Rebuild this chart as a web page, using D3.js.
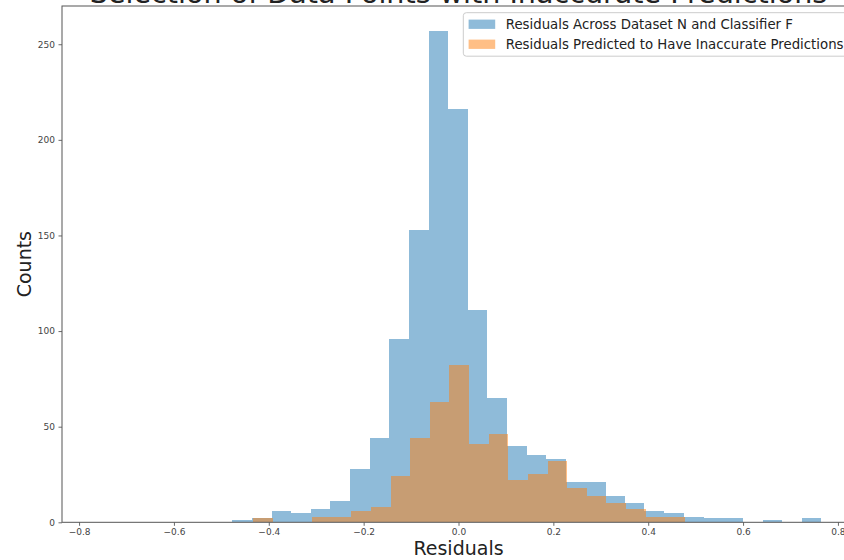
<!DOCTYPE html>
<html>
<head>
<meta charset="utf-8">
<script src="https://cdn.jsdelivr.net/npm/d3@7"></script>
<style>
  html, body { margin: 0; padding: 0; background: #fff; }
  svg { display: block; font-family: "DejaVu Sans", sans-serif; }
</style>
</head>
<body>
<svg id="chart" width="844" height="560"></svg>
<script>
// ---- data ----
const titleText = "Selection of Data Points with Inaccurate Predictions";
const xLabel = "Residuals";
const yLabel = "Counts";
const seriesNames = ["Residuals Across Dataset N and Classifier F", "Residuals Predicted to Have Inaccurate Predictions"];

const allEdges = [-0.477, -0.436, -0.394, -0.353, -0.311, -0.270, -0.229, -0.187, -0.146, -0.104,
  -0.063, -0.022, 0.020, 0.061, 0.103, 0.144, 0.185, 0.227, 0.268, 0.310,
  0.351, 0.392, 0.434, 0.475, 0.517, 0.558, 0.599, 0.641, 0.682, 0.724, 0.765];
const allCounts = [1, 2, 6, 5, 7, 11, 28, 44, 96, 153,
  257, 216, 111, 65, 40, 35, 33, 21, 21, 14,
  10, 6, 5, 3, 2, 2, 0, 1, 0, 2];

const inaccEdges = [-0.433, -0.392, -0.350, -0.309, -0.268, -0.226, -0.185, -0.143, -0.102, -0.061,
  -0.019, 0.022, 0.064, 0.105, 0.147, 0.188, 0.229, 0.271, 0.312, 0.354,
  0.395, 0.437, 0.478];
const inaccCounts = [2, 0, 0, 3, 3, 6, 8, 24, 44, 63,
  82, 41, 46, 22, 25, 32, 18, 14, 10, 7,
  3, 3];

const xTicks = [-0.8, -0.6, -0.4, -0.2, 0.0, 0.2, 0.4, 0.6, 0.8];
const yTicks = [0, 50, 100, 150, 200, 250];
const xDomain = [-0.836, 0.836];
const yDomain = [0, 270];
const colors = ["#1f77b4", "#ff7f0e"];

// ---- layout ----
const svg = d3.select("#chart");
const plot = { left: 62, right: 855, top: 6, bottom: 522.3 };

const x = d3.scaleLinear().domain(xDomain).range([plot.left, plot.right]);
const y = d3.scaleLinear().domain(yDomain).range([plot.bottom, plot.top]);

function bins(edges, counts) {
  return counts.map((c, i) => ({ x0: edges[i], x1: edges[i + 1], c }));
}

const series = [bins(allEdges, allCounts), bins(inaccEdges, inaccCounts)];

series.forEach((s, k) => {
  svg.append("g")
    .selectAll("rect")
    .data(s.filter(d => d.c > 0))
    .join("rect")
    .attr("x", d => x(d.x0))
    .attr("width", d => x(d.x1) - x(d.x0))
    .attr("y", d => y(d.c))
    .attr("height", d => y(0) - y(d.c))
    .attr("fill", colors[k])
    .attr("fill-opacity", 0.5)
    .attr("shape-rendering", "crispEdges");
});

// axes
const xAxis = d3.axisBottom(x).tickValues(xTicks).tickSize(3.5).tickPadding(3)
  .tickFormat(d => d3.format(".1f")(d).replace("-", "\u2212"));
const yAxis = d3.axisLeft(y).tickValues(yTicks).tickSize(3.5).tickPadding(3.5)
  .tickFormat(d3.format("d"));

const gx = svg.append("g").attr("transform", `translate(0,${plot.bottom})`).call(xAxis);
const gy = svg.append("g").attr("transform", `translate(${plot.left},0)`).call(yAxis);
[gx, gy].forEach(g => {
  g.select(".domain").remove();
  g.selectAll(".tick line").attr("stroke", "#444").attr("stroke-width", 0.8);
  g.selectAll(".tick text").attr("fill", "#444").attr("font-size", 9)
    .attr("font-family", "DejaVu Sans, sans-serif");
});

// spines
svg.append("rect")
  .attr("x", plot.left).attr("y", plot.top)
  .attr("width", plot.right - plot.left).attr("height", plot.bottom - plot.top)
  .attr("fill", "none").attr("stroke", "#555").attr("stroke-width", 1);

// title (cut off at top)
svg.append("text")
  .attr("x", (plot.left + plot.right) / 2).attr("y", 3)
  .attr("text-anchor", "middle").attr("font-size", 28.6).attr("fill", "#222")
  .text(titleText);

// axis labels
svg.append("text")
  .attr("x", (plot.left + plot.right) / 2).attr("y", 555)
  .attr("text-anchor", "middle").attr("font-size", 19).attr("fill", "#222")
  .text(xLabel);
svg.append("text")
  .attr("transform", `translate(31,${(plot.top + plot.bottom) / 2}) rotate(-90)`)
  .attr("text-anchor", "middle").attr("font-size", 19).attr("fill", "#222")
  .text(yLabel);

// legend
const lg = svg.append("g").attr("transform", "translate(463.3,12.7)");
lg.append("rect").attr("x", 0).attr("y", 0).attr("width", 385).attr("height", 43.5)
  .attr("rx", 3).attr("fill", "#fff").attr("fill-opacity", 0.8)
  .attr("stroke", "#ccc").attr("stroke-width", 1);
seriesNames.forEach((name, i) => {
  const cy = 11.5 + i * 20;
  lg.append("rect").attr("x", 5.3).attr("y", cy - 4.6).attr("width", 26.6).attr("height", 9.3)
    .attr("fill", colors[i]).attr("fill-opacity", 0.5);
  lg.append("text").attr("x", 42.5).attr("y", cy).attr("dy", "0.35em")
    .attr("font-size", 13.3).attr("fill", "#222").text(name);
});
</script>
</body>
</html>
